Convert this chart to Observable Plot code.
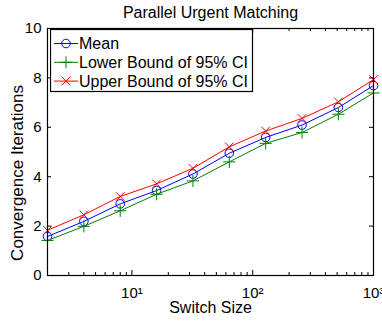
<!DOCTYPE html>
<html><head><meta charset="utf-8">
<script src="https://cdn.jsdelivr.net/npm/d3@7"></script>
<script src="https://cdn.jsdelivr.net/npm/@observablehq/plot@0.6"></script>
<style>
body{margin:0;background:#fff;}
#wrap{position:relative;width:382px;height:321px;font-family:"Liberation Sans",Arial,Helvetica,sans-serif;}
#wrap svg{display:block;}
#legend{position:absolute;left:50px;top:29px;}
</style></head>
<body><div id="wrap"></div>
<script>
const switchSize = [2, 4, 8, 16, 32, 64, 128, 256, 512, 1000];
const meanIter  = [1.58, 2.19, 2.90, 3.44, 4.11, 4.95, 5.59, 6.09, 6.80, 7.69];
const lowerCI   = [1.42, 1.99, 2.62, 3.29, 3.83, 4.60, 5.35, 5.79, 6.53, 7.39];
const upperCI   = [1.83, 2.46, 3.20, 3.71, 4.34, 5.21, 5.85, 6.36, 7.03, 7.93];
const seriesNames   = ["Mean", "Lower Bound of 95% CI", "Upper Bound of 95% CI"];
const seriesColors  = ["#0000ff", "#008000", "#ff0000"];
const seriesSymbols = ["circle", "plus", "times"];
const xMajorTicks = [10, 100, 1000];
const xMinorTicks = [2,3,4,5,6,7,8,9,20,30,40,50,60,70,80,90,200,300,400,500,600,700,800,900];
const yTicks = [0, 2, 4, 6, 8, 10];
const titleText = "Parallel Urgent Matching";
const xLabel = "Switch Size";
const yLabel = "Convergence Iterations";

const seriesValues = [meanIter, lowerCI, upperCI];
const W = 382, H = 321, mL = 47, mR = 9, mT = 28, mB = 46;
const pw = W - mL - mR, ph = H - mT - mB;
const sup = {1: "\u00b9", 2: "\u00b2", 3: "\u00b3"};

const seriesMarks = seriesNames.flatMap((name, i) => {
  const rows = switchSize.map((x, j) => ({x, y: seriesValues[i][j]}));
  return [
    Plot.line(rows, {x: "x", y: "y", stroke: seriesColors[i], strokeWidth: 1}),
    Plot.dot(rows, {x: "x", y: "y", stroke: seriesColors[i], fill: "none", symbol: seriesSymbols[i], r: seriesSymbols[i] === "circle" ? 4.3 : 4, strokeWidth: 1})
  ];
});

const chart = Plot.plot({
  width: W, height: H,
  marginLeft: mL, marginRight: mR, marginTop: mT, marginBottom: mB,
  style: {fontSize: "15px", fontFamily: "Liberation Sans, Arial, sans-serif", color: "#000", background: "#fff", overflow: "visible"},
  x: {type: "log", domain: [2, 1000]},
  y: {domain: [0, 10]},
  marks: [
    ...seriesMarks,
    Plot.frame({stroke: "#000", strokeWidth: 1.2}),
    Plot.tickX(xMajorTicks, {x: d => d, insetTop: ph - 5, stroke: "#000"}),
    Plot.tickX(xMajorTicks, {x: d => d, insetBottom: ph - 5, stroke: "#000"}),
    Plot.tickX(xMinorTicks, {x: d => d, insetTop: ph - 3, stroke: "#000"}),
    Plot.tickX(xMinorTicks, {x: d => d, insetBottom: ph - 3, stroke: "#000"}),
    Plot.tickY(yTicks, {y: d => d, insetRight: pw - 4, stroke: "#000"}),
    Plot.tickY(yTicks, {y: d => d, insetLeft: pw - 4, stroke: "#000"}),
    Plot.axisY({ticks: yTicks, tickSize: 0, tickPadding: 6, fontSize: 15, label: null}),
    Plot.axisX({ticks: xMajorTicks, tickSize: 0, tickPadding: 12, fontSize: 15, label: null,
      tickFormat: d => "10" + sup[Math.round(Math.log10(d))]}),
    Plot.text([titleText], {frameAnchor: "top", textAnchor: "middle", lineAnchor: "bottom", dy: -11, fontSize: 16, fill: "#000"}),
    Plot.text([xLabel], {frameAnchor: "bottom", textAnchor: "middle", lineAnchor: "bottom", dy: 37, fontSize: 16, fill: "#000"}),
    Plot.text([yLabel], {frameAnchor: "left", textAnchor: "middle", lineAnchor: "bottom", rotate: -90, dx: -25, dy: 21, fontSize: 17, fill: "#000"})
  ]
});

const wrap = document.getElementById("wrap");
wrap.appendChild(chart);

// legend overlay
const lw = 202, lh = 62;
const leg = d3.create("svg").attr("id", "legend").attr("width", lw + 2).attr("height", lh + 2);
leg.append("rect").attr("x", 0.5).attr("y", 0.5).attr("width", lw).attr("height", lh)
  .attr("fill", "#fff").attr("stroke", "#000").attr("stroke-width", 1.2);
const symMap = {circle: d3.symbolCircle, plus: d3.symbolPlus, times: d3.symbolTimes};
seriesNames.forEach((name, i) => {
  const cy = 14.5 + i * 18.8;
  const g = leg.append("g");
  g.append("line").attr("x1", 4).attr("x2", 28).attr("y1", cy).attr("y2", cy)
    .attr("stroke", seriesColors[i]).attr("stroke-width", 1);
  const r = seriesSymbols[i] === "circle" ? 4.3 : 4;
  g.append("path").attr("d", d3.symbol(symMap[seriesSymbols[i]], Math.PI * r * r)())
    .attr("transform", `translate(16,${cy})`).attr("fill", "none")
    .attr("stroke", seriesColors[i]).attr("stroke-width", 1);
  g.append("text").attr("x", 29).attr("y", cy + 5.5).attr("font-size", 16)
    .attr("font-family", "Liberation Sans, Arial, sans-serif").attr("fill", "#000").text(name);
});
wrap.appendChild(leg.node());
</script>
</body></html>
